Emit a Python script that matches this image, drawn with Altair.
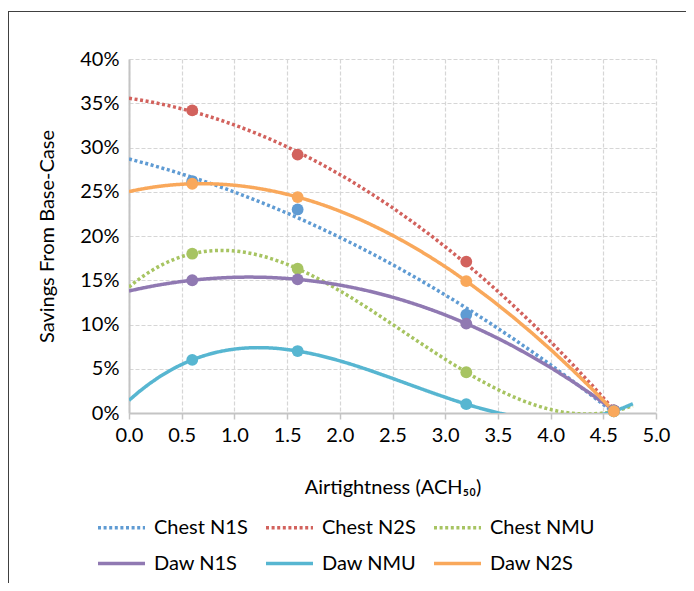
import altair as alt
import pandas as pd

x_vals = [0.6, 1.6, 3.2, 4.6]
series_names = ["Chest N1S", "Chest N2S", "Chest NMU", "Daw N1S", "Daw NMU", "Daw N2S"]
chest_n1s = [0.262, 0.230, 0.111, 0.003]
chest_n2s = [0.342, 0.292, 0.171, 0.003]
chest_nmu = [0.180, 0.163, 0.046, 0.002]
daw_n1s = [0.150, 0.151, 0.101, 0.003]
daw_nmu = [0.060, 0.070, 0.010, 0.002]
daw_n2s = [0.259, 0.244, 0.149, 0.002]
colors = ["#5F9BD3", "#D2625D", "#A7C462", "#9079B2", "#57B6D1", "#F9A85B"]

values = [chest_n1s, chest_n2s, chest_nmu, daw_n1s, daw_nmu, daw_n2s]
rows = []
for name, ys in zip(series_names, values):
    for xv, yv in zip(x_vals, ys):
        rows.append({"series": name, "x": xv, "y": yv})
df = pd.DataFrame(rows)

FONT = "Lato"
dot = [3, 2.6]
solid = [1, 0]

color_scale = alt.Scale(domain=series_names, range=colors)
dash_scale = alt.Scale(domain=series_names, range=[dot, dot, dot, solid, solid, solid])

xenc = alt.X("x:Q", scale=alt.Scale(domain=[0, 5], nice=False),
             axis=alt.Axis(title="Airtightness (ACH₅₀)", values=[0, 0.5, 1, 1.5, 2, 2.5, 3, 3.5, 4, 4.5, 5],
                           format=".1f", tickSize=6, labelPadding=6, titlePadding=32, labelFlush=False))
yenc = alt.Y("y:Q", scale=alt.Scale(domain=[0, 0.4], nice=False),
             axis=alt.Axis(title="Savings From Base-Case", values=[0, 0.05, 0.1, 0.15, 0.2, 0.25, 0.3, 0.35, 0.4],
                           format=".0%", ticks=False, tickSize=0, labelPadding=10, titlePadding=22,
                           labelFlush=False))

legend = alt.Legend(title=None, orient="none", legendX=-33, legendY=443, columns=3, direction="horizontal")

base = alt.Chart(df)

def trend(names, order):
    return base.transform_filter(
        alt.FieldOneOfPredicate(field="series", oneOf=names)
    ).transform_regression(
        "x", "y", groupby=["series"], method="poly", order=order, extent=[0, 4.78]
    ).mark_line(clip=True, strokeWidth=3.5).encode(
        x=xenc, y=yenc,
        color=alt.Color("series:N", scale=color_scale, legend=legend),
        strokeDash=alt.StrokeDash("series:N", scale=dash_scale, legend=legend),
    )

lines_a = trend(["Chest N1S", "Chest N2S"], 2)
lines_b = trend(["Chest NMU", "Daw N1S", "Daw NMU", "Daw N2S"], 3)

points = base.mark_point(filled=True, size=140, opacity=1).encode(
    x="x:Q", y="y:Q",
    color=alt.Color("series:N", scale=color_scale, legend=None),
)

frame_left = alt.Chart(pd.DataFrame({"k": [0]})).mark_rule(color="#404040", strokeWidth=1).encode(
    x=alt.value(-120.5), y=alt.value(-47.5), y2=alt.value(700))
frame_top = alt.Chart(pd.DataFrame({"k": [0]})).mark_rule(color="#404040", strokeWidth=1).encode(
    x=alt.value(-121), x2=alt.value(700), y=alt.value(-47.5))

chart = alt.layer(lines_a, lines_b, points, frame_left, frame_top).properties(
    width=527, height=354,
    background="white",
    autosize=alt.AutoSizeParams(type="none"),
    padding={"left": 121, "top": 51, "right": 30, "bottom": 170},
).configure_view(stroke=None).configure_axis(
    labelFont=FONT, labelFontSize=20, labelColor="#000000",
    titleFont=FONT, titleFontSize=20, titleFontWeight="normal", titleColor="#000000",
    gridColor="#d6d6d6", gridDash=[4, 2], gridWidth=1.2,
    domainColor="#c4c4c4", domainWidth=2, tickColor="#c4c4c4", tickWidth=1.5,
).configure_legend(
    symbolType="stroke", symbolSize=2209, symbolStrokeWidth=3.5, labelOffset=7,
    columnPadding=0, rowPadding=-24, gridAlign="all",
    labelFont=FONT, labelFontSize=20, labelColor="#000000", labelLimit=300,
)

chart.save("out.html", embed_options={"renderer": "svg", "actions": False})
